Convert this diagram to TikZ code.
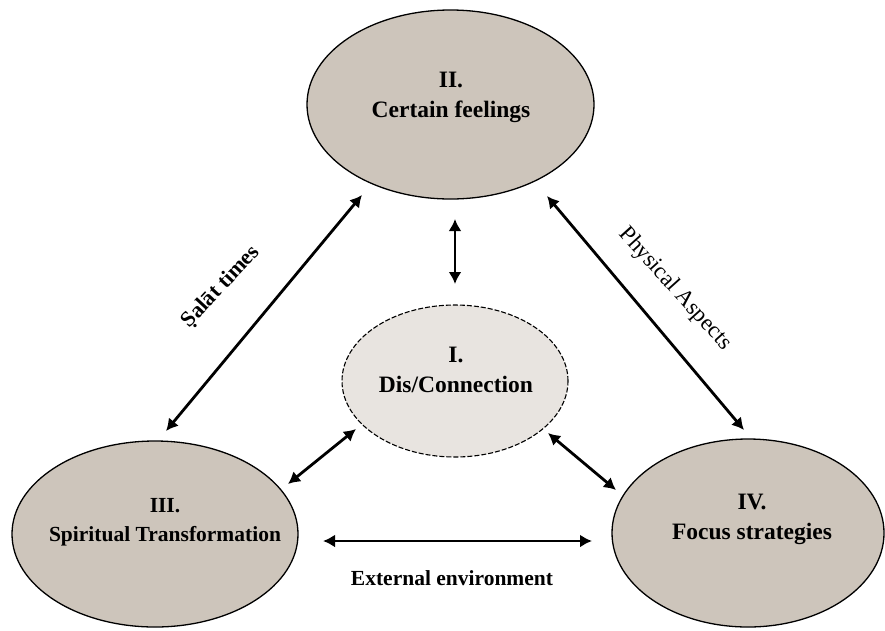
\documentclass[tikz,border=0pt]{standalone}
\usepackage{fontspec}
\setmainfont{Liberation Serif}
\usetikzlibrary{shapes.geometric,arrows.meta}
\definecolor{ovalfill}{RGB}{205,197,187}
\definecolor{corefill}{RGB}{232,228,224}
\tikzset{
  oval/.style={ellipse, draw=black, line width=1.3pt, fill=ovalfill, inner sep=0pt},
  coreoval/.style={ellipse, draw=black, line width=1.1pt, dash pattern=on 5pt off 2pt, fill=corefill, inner sep=0pt},
  lbl/.style={font=\fontsize{23.5}{30}\selectfont\bfseries, align=center, inner sep=0pt},
  smlbl/.style={font=\fontsize{21.5}{29}\selectfont\bfseries, align=center, inner sep=0pt},
  rellbl/.style={font=\fontsize{23}{26}\selectfont, inner sep=0pt},
  link/.style={line width=2.8pt, {Latex[length=12pt,width=13pt]}-{Latex[length=12pt,width=13pt]}},
}
\begin{document}
\begin{tikzpicture}[x=1pt,y=-1pt]
\useasboundingbox (0,0) rectangle (885,630);
% ovals
\node[oval, minimum width=287pt, minimum height=189pt] (II) at (450.5,104.5) {};
\node[coreoval, minimum width=226pt, minimum height=152pt] (I) at (455,381) {};
\node[oval, minimum width=286pt, minimum height=186pt] (III) at (155,534) {};
\node[oval, minimum width=272pt, minimum height=188pt] (IV) at (748,533) {};
% texts
\node[lbl] (tII) at (451,97) {II.\\Certain feelings};
\node[lbl] (tI) at (456,370) {I.\\Dis/Connection};
\node[smlbl] (tIII) at (165,522) {III.\\Spiritual Transformation};
\node[lbl] (tIV) at (752,519) {IV.\\Focus strategies};
\node[smlbl] (tEnv) at (452,578) {External environment};
\node[font=\fontsize{22}{26}\selectfont\bfseries, inner sep=0pt, rotate=47] (tSal) at (221,287) {Ṣalāt times};
\node[rellbl, rotate=-48] (tPhy) at (675,289) {Physical Aspects};
% arrow end points
\coordinate (a1) at (362,195);
\coordinate (a2) at (166,431);
\coordinate (b1) at (547,196);
\coordinate (b2) at (744,430);
\coordinate (c1) at (455,219);
\coordinate (c2) at (455,284);
\coordinate (d1) at (288,484);
\coordinate (d2) at (356,429);
\coordinate (e1) at (548,433);
\coordinate (e2) at (616,490);
\coordinate (f1) at (323,541);
\coordinate (f2) at (592,541);
% connectors
\draw[link] (a1) -- (a2);
\draw[link] (b1) -- (b2);
\draw[link] (c1) -- (c2);
\draw[link] (d1) -- (d2);
\draw[link] (e1) -- (e2);
\draw[link] (f1) -- (f2);
\end{tikzpicture}
\end{document}
